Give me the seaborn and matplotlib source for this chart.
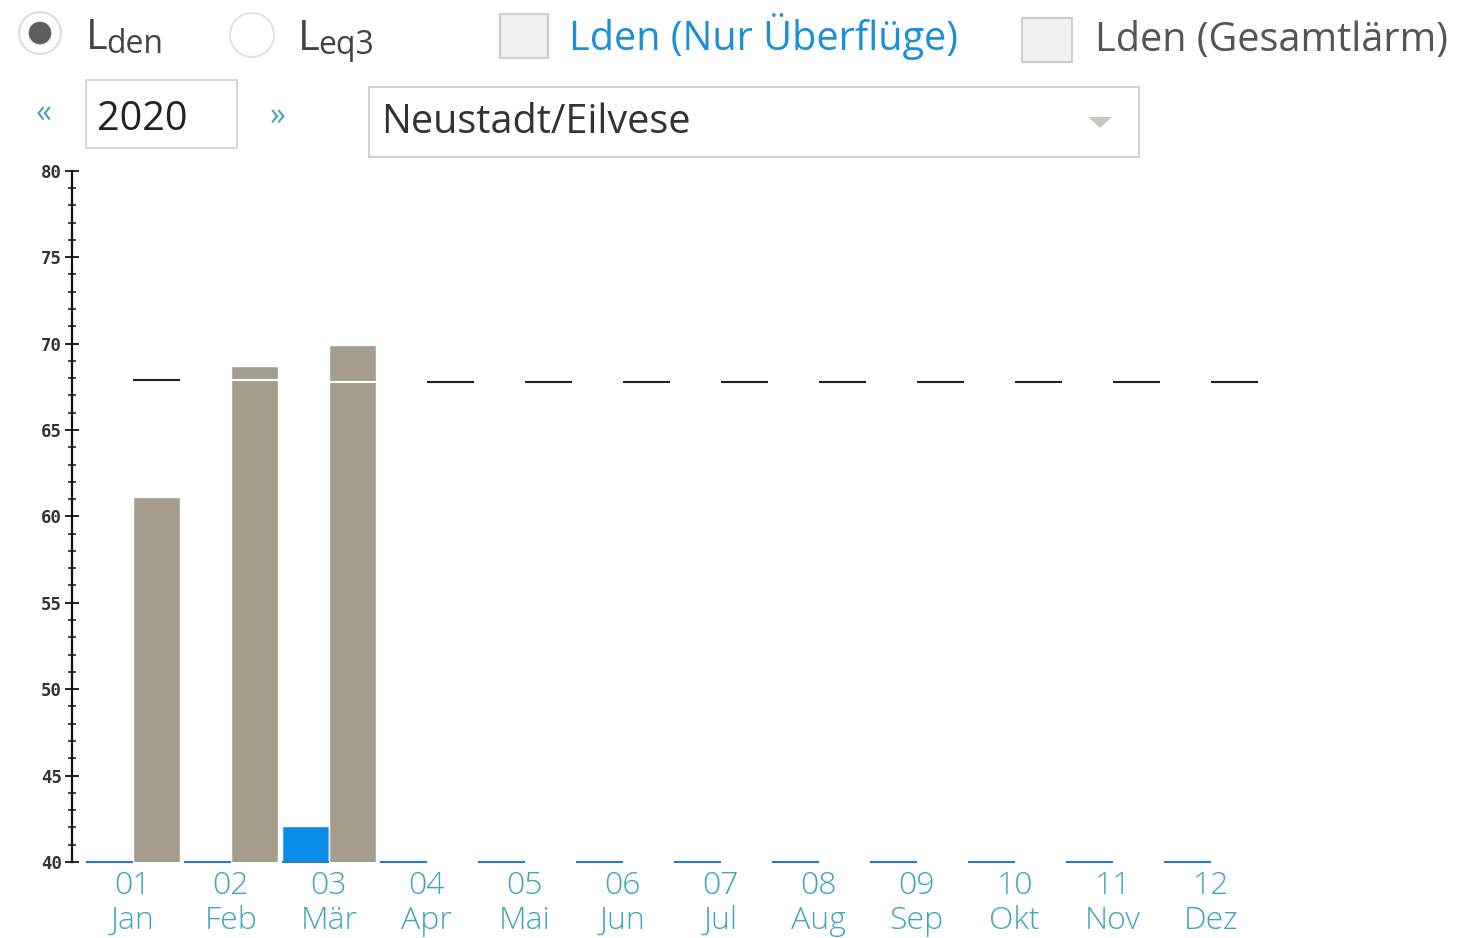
import numpy as np
import pandas as pd
import matplotlib
matplotlib.use("Agg")
import matplotlib.pyplot as plt
from matplotlib.patches import Rectangle, Ellipse, Polygon
from matplotlib.ticker import MultipleLocator
import seaborn as sns

# --- data (Lden in dB, Neustadt/Eilvese, 2020) ---
month_nums = ["01", "02", "03", "04", "05", "06", "07", "08", "09", "10", "11", "12"]
month_names = ["Jan", "Feb", "Mär", "Apr", "Mai", "Jun", "Jul", "Aug", "Sep", "Okt", "Nov", "Dez"]
lden_ueberfluege = [40.0, 40.0, 42.1, 40.0, 40.0, 40.0, 40.0, 40.0, 40.0, 40.0, 40.0, 40.0]
lden_gesamt = [61.1, 68.7, 69.9, np.nan, np.nan, np.nan, np.nan, np.nan, np.nan, np.nan, np.nan, np.nan]
lden_referenz = [67.9, 67.9, 67.8, 67.8, 67.8, 67.8, 67.8, 67.8, 67.8, 67.8, 67.8, 67.8]

series_names = ["Lden (Nur Überflüge)", "Lden (Gesamtlärm)"]
series_colors = ["#0a8de6", "#a59d8b"]

labels = [f"{n}\n{m}" for n, m in zip(month_nums, month_names)]
df = pd.DataFrame({
    "Monat": labels * 2,
    "Serie": [series_names[0]] * 12 + [series_names[1]] * 12,
    "Lden": lden_ueberfluege + lden_gesamt,
})

sns.set_theme(style="white")
plt.rcParams["font.family"] = ["Open Sans", "DejaVu Sans"]

W, H = 1458, 938
fig = plt.figure(figsize=(W / 100, H / 100), dpi=100)
fig.patch.set_facecolor("white")
ax = fig.add_axes([72 / W, 1 - 862 / H, 1325 / W, (862 - 170.7) / H])

sns.barplot(data=df, x="Monat", y="Lden", hue="Serie", hue_order=series_names,
            palette=series_colors, width=0.96, gap=0, errorbar=None,
            saturation=1, legend=False, ax=ax)

ax.set_ylim(40, 80)
ax.set_xlim(-0.62, 12.9)

# baseline strokes under the "Nur Überflüge" bars and the monthly reference dashes
blue_bars = ax.containers[0]
for i, p in enumerate(blue_bars.patches):
    x0 = p.get_x()
    w = p.get_width()
    ax.hlines(40, x0, x0 + w, color="#2a7cc0", lw=1.5, clip_on=False, zorder=5)
    gesamt = lden_gesamt[i]
    col = "white" if (not np.isnan(gesamt) and gesamt > lden_referenz[i]) else "#222222"
    ax.hlines(lden_referenz[i], x0 + w, x0 + 2 * w, color=col, lw=1.5, zorder=6)

# axes styling
for s in ["top", "right", "bottom"]:
    ax.spines[s].set_visible(False)
ax.spines["left"].set_color("#111111")
ax.spines["left"].set_linewidth(1.6)
ax.yaxis.set_major_locator(MultipleLocator(5))
ax.yaxis.set_minor_locator(MultipleLocator(1))
ax.tick_params(axis="y", which="major", direction="inout", length=10, width=1.3,
               color="#111111", pad=2, left=True)
ax.tick_params(axis="y", which="minor", direction="inout", length=6, width=1.1,
               color="#111111", left=True)
for t in ax.get_yticklabels():
    t.set_family("DejaVu Sans Mono")
    t.set_fontsize(12.5)
    t.set_fontweight("bold")
    t.set_color("#333333")
ax.tick_params(axis="x", length=0, pad=6)
for t in ax.get_xticklabels():
    t.set_fontsize(23)
    t.set_color("#3ea6b8")
    t.set_fontweight("light")
    t.set_linespacing(1.1)
ax.set_xlabel("")
ax.set_ylabel("")


# --- page controls above the chart (pixel helpers) ---
def fx(x):
    return x / W


def fy(y):
    return 1 - y / H


def box(x0, y0, x1, y1, face="white", edge="#cccccc", lw=1.2):
    fig.patches.append(Rectangle((fx(x0), fy(y1)), fx(x1) - fx(x0), fy(y0) - fy(y1),
                                 transform=fig.transFigure, facecolor=face,
                                 edgecolor=edge, lw=lw))


def circle(cx, cy, r, face, edge, lw=1.2):
    fig.patches.append(Ellipse((fx(cx), fy(cy)), 2 * r / W, 2 * r / H,
                               transform=fig.transFigure,
                               facecolor=face, edgecolor=edge, lw=lw))


# radio buttons
circle(40, 33, 21, "white", "#dddddd", 1.5)
circle(40, 33, 11, "#5e5e5e", "#5e5e5e", 0.5)
circle(252, 35, 22, "white", "#e2e2e2", 1.5)
fig.text(fx(86), fy(49), "L", fontsize=30, color="#444444", va="baseline", ha="left")
fig.text(fx(106), fy(53), "den", fontsize=23, color="#444444", va="baseline", ha="left")
fig.text(fx(298), fy(50), "L", fontsize=30, color="#444444", va="baseline", ha="left")
fig.text(fx(318), fy(54), "eq3", fontsize=23, color="#444444", va="baseline", ha="left")

# checkboxes
box(500, 14, 548, 58, face="#f1f1f0", edge="#cfcfcf", lw=1.5)
fig.text(fx(569), fy(37), series_names[0], fontsize=28.5, color="#1b8fd9",
         va="center", ha="left")
box(1022, 18, 1072, 62, face="#f1f1f0", edge="#cfcfcf", lw=1.5)
fig.text(fx(1095), fy(41), series_names[1], fontsize=28.5, color="#555555",
         va="center", ha="left")

# year selector
fig.text(fx(44), fy(113), "«", fontsize=23, color="#4aa7b8", va="center", ha="center")
box(86, 80, 237, 148, edge="#d0d0d0")
fig.text(fx(97), fy(120), "2020", fontsize=28.5, color="#222222", va="center", ha="left")
fig.text(fx(278), fy(116), "»", fontsize=23, color="#4aa7b8", va="center", ha="center")

# station dropdown
box(369, 87, 1139, 157, edge="#c8c8c8")
fig.text(fx(381), fy(123), "Neustadt/Eilvese", fontsize=28.5, color="#333333",
         va="center", ha="left")
fig.patches.append(Polygon([(fx(1088), fy(117)), (fx(1112), fy(117)), (fx(1100), fy(128))],
                           closed=True, transform=fig.transFigure,
                           facecolor="#c4c9c0", edgecolor="none"))

fig.savefig("out.png", dpi=100, facecolor="white")
